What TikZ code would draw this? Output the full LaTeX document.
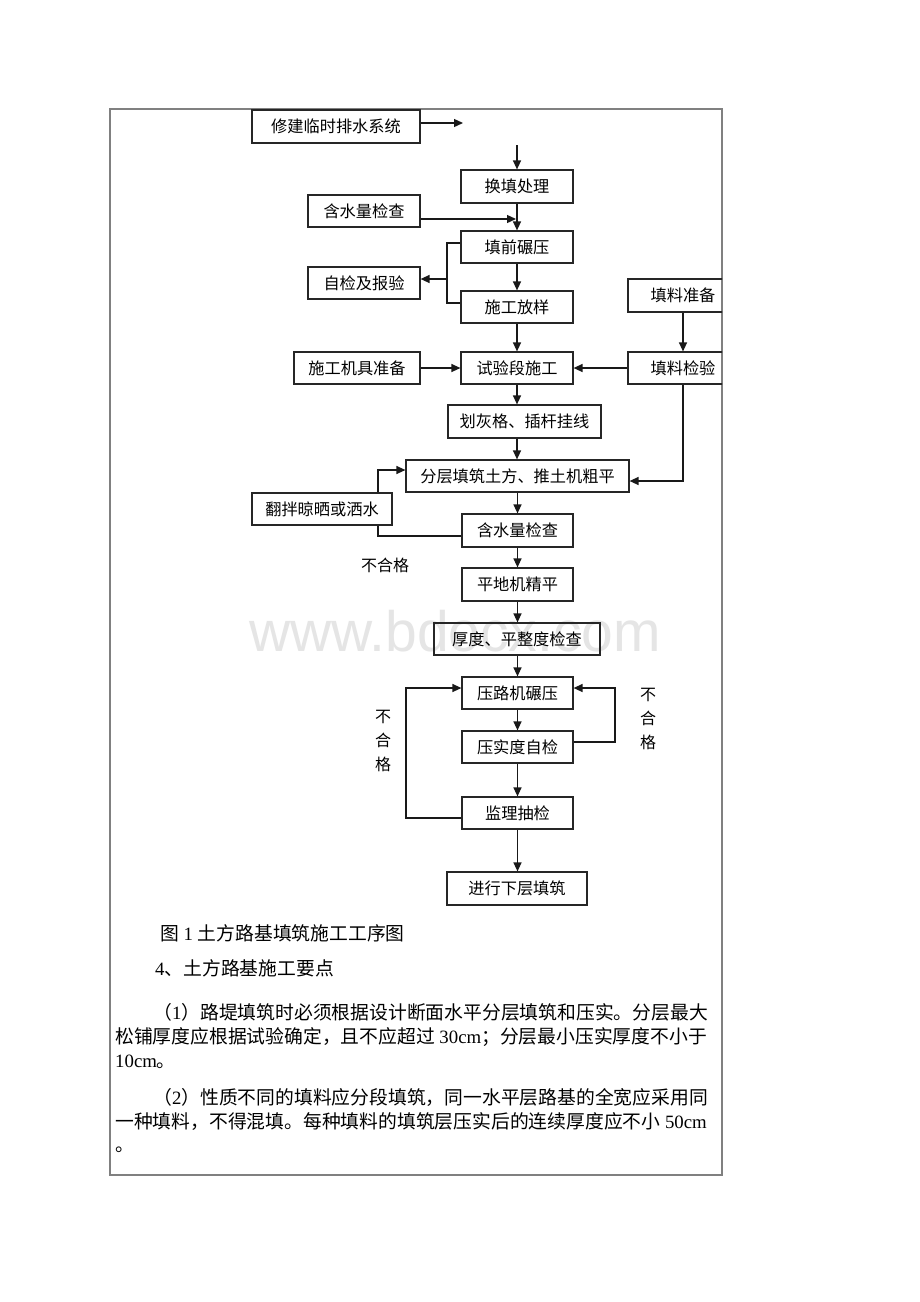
\documentclass[tikz,border=0pt]{standalone}
\usepackage{fontspec}
\newfontfamily\song{Noto Sans CJK SC}
\newfontfamily\tnr{Liberation Serif}
\newfontfamily\wm{Liberation Sans}
\usetikzlibrary{arrows.meta}
\tikzset{
  box/.style={draw=black!85, line width=1.2pt, inner sep=0pt, text=black,
    font=\song\fontsize{16.2}{18}\selectfont},
  conn/.style={draw=black!90, line width=1.3pt},
  arr/.style={conn, -{Triangle[length=9pt,width=8pt]}},
  lbl/.style={inner sep=0pt, font=\song\fontsize{16}{24}\selectfont, align=center},
  para/.style={inner sep=0pt, anchor=west, font=\song\fontsize{18.8}{20}\selectfont},
  frame/.style={draw=black!50, line width=1.3pt}
}
\begin{document}
\begin{tikzpicture}[x=1pt,y=-1pt]
\useasboundingbox (0,0) rectangle (920,1302);
\fill[white] (0,0) rectangle (920,1302);
% watermark
\node[anchor=base west, inner sep=0pt, text=black!10, font=\wm\fontsize{57}{57}\selectfont] (wm) at (249,651) {www.bdocx.com};
% frame
\draw[frame] (110,109) rectangle (722,1175);

% boxes
\node[box, minimum width=168pt, minimum height=33pt] (b1) at (336,126.5) {修建临时排水系统};
\node[box, minimum width=112pt, minimum height=33pt] (b2) at (517,186.5) {换填处理};
\node[box, minimum width=112pt, minimum height=32pt] (b3) at (364,211) {含水量检查};
\node[box, minimum width=112pt, minimum height=32pt] (b4) at (517,247) {填前碾压};
\node[box, minimum width=112pt, minimum height=32pt] (b5) at (364,283) {自检及报验};
\node[box, minimum width=112pt, minimum height=32pt] (b6) at (517,307) {施工放样};
\node[box, minimum width=112pt, minimum height=32pt] (b7) at (517,368) {试验段施工};
\node[box, minimum width=126pt, minimum height=32pt] (b8) at (357,368) {施工机具准备};
\begin{scope}
\clip (0,0) rectangle (722,1302);
\node[box, minimum width=110pt, minimum height=33pt] (b9) at (683,295.5) {填料准备};
\node[box, minimum width=110pt, minimum height=32pt] (b10) at (683,368) {填料检验};
\end{scope}
\node[box, minimum width=153pt, minimum height=33pt] (b11) at (524.5,421.5) {划灰格、插杆挂线};
\node[box, minimum width=223pt, minimum height=32pt] (b12) at (517.5,476) {分层填筑土方、推土机粗平};
\node[box, minimum width=140pt, minimum height=32pt] (b13) at (322,509) {翻拌晾晒或洒水};
\node[box, minimum width=111pt, minimum height=33pt] (b14) at (517.5,530.5) {含水量检查};
\node[box, minimum width=111pt, minimum height=33pt] (b15) at (517.5,584.5) {平地机精平};
\node[box, minimum width=166pt, minimum height=32pt] (b16) at (517,639) {厚度、平整度检查};
\node[box, minimum width=111pt, minimum height=32pt] (b17) at (517.5,693) {压路机碾压};
\node[box, minimum width=111pt, minimum height=32pt] (b18) at (517.5,747) {压实度自检};
\node[box, minimum width=111pt, minimum height=32pt] (b19) at (517.5,813) {监理抽检};
\node[box, minimum width=140pt, minimum height=33pt] (b20) at (517,888.5) {进行下层填筑};

% labels
\node[lbl] (n1) at (385,565) {不合格};
\node[lbl] (n2) at (383,741) {不\\合\\格};
\node[lbl] (n3) at (648,719) {不\\合\\格};

% coordinates
\coordinate (s1) at (463,123);
\coordinate (s2) at (517,145);
\coordinate (m1) at (516,219);
\coordinate (k2) at (447,303);
\coordinate (k3) at (447,279);
\coordinate (r1) at (683,481);
\coordinate (L) at (406,700);
\coordinate (R) at (615,720);

% connectors
\draw[arr] ([yshift=3.5pt]b1.east) -- (s1);
\draw[arr] (s2) -- (b2.north);
\draw[arr] (b2.south) -- (b4.north);
\draw[arr] ([yshift=-8pt]b3.east) -- (m1);
\draw[conn] ([yshift=4pt]b4.west) -| (k2) -- ([yshift=4pt]b6.west);
\draw[arr] (k3) -- ([yshift=4pt]b5.east);
\draw[arr] (b4.south) -- (b6.north);
\draw[arr] (b6.south) -- (b7.north);
\draw[arr] (b8.east) -- (b7.west);
\draw[arr] (b9.south) -- (b10.north);
\draw[arr] (b10.west) -- (b7.east);
\draw[arr] (b7.south) -- (b7.south |- b11.north);
\draw[arr] (b11.south -| b7.south) -- (b7.south |- b12.north);
\draw[arr] (b10.south) -- (r1) -- ([yshift=-5pt]b12.east);
\draw[arr] ([xshift=56pt]b13.north) |- ([yshift=6pt]b12.west);
\draw[conn] ([yshift=-5.5pt]b14.west) -| ([xshift=56pt]b13.south);
\draw[arr] (b12.south -| b14.north) -- (b14.north);
\draw[arr] (b14.south) -- (b15.north);
\draw[arr] (b15.south) -- (b16.north -| b15.south);
\draw[arr] (b16.south -| b17.north) -- (b17.north);
\draw[arr] (b17.south) -- (b18.north);
\draw[arr] (b18.south) -- (b19.north);
\draw[arr] (b19.south) -- (b20.north -| b19.south);
\draw[arr] ([yshift=-5pt]b19.west) -| (L) |- ([yshift=5pt]b17.west);
\draw[arr] ([yshift=5pt]b18.east) -| (R) |- ([yshift=5pt]b17.east);

% text below
\node[para] (t1) at (160,933) {图{\tnr\ 1 }土方路基填筑施工工序图};
\node[para] (t2) at (155,968) {{\tnr 4}、土方路基施工要点};
\node[para] (t3) at (153,1012) {（{\tnr 1}）路堤填筑时必须根据设计断面水平分层填筑和压实。分层最大};
\node[para] (t4) at (115,1037) {松铺厚度应根据试验确定，且不应超过{\tnr\ 30cm}；分层最小压实厚度不小于};
\node[para] (t5) at (115,1062) {{\tnr 10cm}。};
\node[para] (t6) at (153,1097) {（{\tnr 2}）性质不同的填料应分段填筑，同一水平层路基的全宽应采用同};
\node[para] (t7) at (115,1122) {一种填料，不得混填。每种填料的填筑层压实后的连续厚度应不小{\tnr\ 50cm}};
\node[para] (t8) at (115,1150) {。};
\end{tikzpicture}
\end{document}
